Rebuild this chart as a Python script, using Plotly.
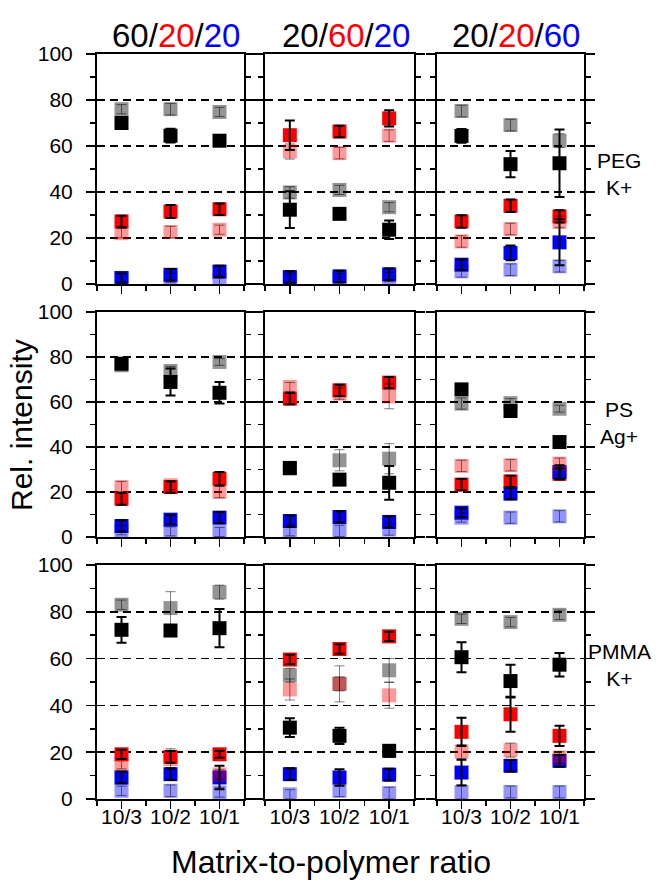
import plotly.graph_objects as go

W, H = 663, 883
ratios = ["10/3", "10/2", "10/1"]
xpos = [1, 2, 3]
compositions = ["60/<span style='color:#ff0000'>20</span>/<span style='color:#0000ff'>20</span>",
                "20/<span style='color:#ff0000'>60</span>/<span style='color:#0000ff'>20</span>",
                "20/<span style='color:#ff0000'>20</span>/<span style='color:#0000ff'>60</span>"]
systems = ["PEG<br>K+", "PS<br>Ag+", "PMMA<br>K+"]

# ---- PEG K+ (per composition: 60/20/20, 20/60/20, 20/20/60) ----
peg_black = [[70, 64.5, 62.3], [32.3, 30.5, 23.6], [64.4, 52.1, 52.5]]
peg_black_err = [[2, 3, 1], [8, 1, 4], [3, 5.7, 14.7]]
peg_gray = [[76, 76, 74.8], [39.8, 40.9, 33.4], [75.2, 69.1, 62.3]]
peg_gray_err = [[2, 2.5, 2], [2.5, 2, 2], [2.5, 2.5, 3]]
peg_red = [[27.2, 31.5, 32.5], [64.7, 66.3, 72], [27.2, 34, 29.4]]
peg_red_err = [[2.5, 2.8, 2.5], [6.4, 2.5, 3.5], [2.7, 2.7, 2.7]]
peg_pink = [[22.1, 22.6, 23.6], [57.6, 56.9, 64.5], [18.5, 23.9, 27]]
peg_pink_err = [[2, 2.5, 2], [3.3, 2.5, 2.5], [2.5, 2.5, 2.5]]
peg_blue = [[2.6, 4, 5.4], [3, 3.3, 4.2], [8.4, 13.5, 18.1]]
peg_blue_err = [[2, 2.5, 2.5], [2.5, 2.5, 2.5], [2.3, 3.2, 10]]
peg_lblue = [[2.6, 2.6, 1.6], [2.5, 2.5, 3], [5.5, 6.2, 7.7]]
peg_lblue_err = [[2, 2, 2], [2, 2, 2], [2.5, 2.5, 2.5]]

# ---- PS Ag+ ----
ps_black = [[77, 68.9, 64.1], [30.7, 25.5, 24.1], [65.6, 56, 42.2]]
ps_black_err = [[1.5, 6, 4.8], [1.5, 2, 7.5], [2, 2, 1.5]]
ps_gray = [[76.3, 73.8, 77.8], [30.4, 34.1, 34.8], [59.3, 59.5, 57]]
ps_gray_err = [[1.5, 2, 1.5], [1.5, 4.7, 6.7], [2.5, 2, 1.5]]
ps_red = [[17, 22.2, 25.9], [61.5, 65.2, 68.6], [23.3, 24.7, 28.1]]
ps_red_err = [[2.7, 2.5, 3], [2.5, 2.5, 2.5], [2.5, 2.5, 2.5]]
ps_pink = [[22.2, 23, 20], [66.7, 63.7, 62.5], [31.6, 31.9, 32.6]]
ps_pink_err = [[2.5, 2, 2.5], [2, 2.5, 5.5], [2.5, 2.5, 2.5]]
ps_blue = [[4.9, 7.7, 8.6], [7.1, 8.9, 6.7], [10.8, 19.3, 28.9]]
ps_blue_err = [[2.5, 2, 2.5], [2.5, 2.5, 2.5], [2, 2.5, 3]]
ps_lblue = [[3, 2.5, 2.2], [3, 2.7, 3.3], [8.6, 8.6, 9.2]]
ps_lblue_err = [[2, 2, 2], [2.5, 2.5, 2.5], [2, 2.5, 2.5]]

# ---- PMMA K+ ----
pmma_black = [[72.3, 72, 73], [30.5, 27, 20.6], [60.6, 50.4, 57.4]]
pmma_black_err = [[5.5, 1.5, 8.2], [4, 3.5, 2.5], [6.4, 7, 5]]
pmma_gray = [[83, 81.6, 88.4], [52.9, 49.2, 55], [77, 75.6, 78.7]]
pmma_gray_err = [[2, 7, 3], [3, 7.7, 5], [2, 2, 2]]
pmma_red = [[19.1, 18, 19.1], [59.6, 64.1, 69.5], [28.7, 36.2, 27]]
pmma_red_err = [[2, 2.5, 1.5], [2, 2, 2], [6, 7.5, 4.3]]
pmma_pink = [[14.9, 17, 10.5], [46.8, 49.2, 44.3], [20.3, 20.9, 17.7]]
pmma_pink_err = [[2, 4.5, 2], [4.5, 3, 5.5], [3, 3, 2.5]]
pmma_blue = [[9.2, 10.6, 9.2], [10.6, 9.2, 10.4], [11.3, 14.2, 16.3]]
pmma_blue_err = [[2.5, 2.5, 5], [2.5, 3.5, 2.5], [5.5, 2.5, 2.5]]
pmma_lblue = [[3.5, 3.5, 2.8], [2, 3.5, 2.5], [3, 3, 3]]
pmma_lblue_err = [[2, 2.5, 2], [2, 2.5, 2.5], [3, 2.5, 2.5]]

rows = [
    dict(black=(peg_black, peg_black_err), gray=(peg_gray, peg_gray_err),
         red=(peg_red, peg_red_err), pink=(peg_pink, peg_pink_err),
         blue=(peg_blue, peg_blue_err), lblue=(peg_lblue, peg_lblue_err)),
    dict(black=(ps_black, ps_black_err), gray=(ps_gray, ps_gray_err),
         red=(ps_red, ps_red_err), pink=(ps_pink, ps_pink_err),
         blue=(ps_blue, ps_blue_err), lblue=(ps_lblue, ps_lblue_err)),
    dict(black=(pmma_black, pmma_black_err), gray=(pmma_gray, pmma_gray_err),
         red=(pmma_red, pmma_red_err), pink=(pmma_pink, pmma_pink_err),
         blue=(pmma_blue, pmma_blue_err), lblue=(pmma_lblue, pmma_lblue_err)),
]

solid = {"black": "#000000", "red": "#ff0000", "blue": "#0000ff"}
faded = {"gray": "rgba(0,0,0,0.42)", "pink": "rgba(255,0,0,0.40)", "lblue": "rgba(0,0,255,0.42)"}

# layout in screen pixels
col_px = [(97, 244), (265, 414), (437, 584)]
row_px = [(54, 284), (312, 537), (565, 799)]
FONT = "Liberation Sans, Arial, sans-serif"


def fx(px):
    return px / W


def fy(py):
    return 1 - py / H


fig = go.Figure()
layout = {}
for r in range(3):
    for c in range(3):
        n = r * 3 + c + 1
        xs = "x" if n == 1 else f"x{n}"
        ys = "y" if n == 1 else f"y{n}"
        xk = "xaxis" if n == 1 else f"xaxis{n}"
        yk = "yaxis" if n == 1 else f"yaxis{n}"
        x0, x1 = col_px[c]
        y0, y1 = row_px[r]
        layout[xk] = dict(
            domain=[fx(x0), fx(x1)], anchor=ys, range=[0.5, 3.5], automargin=False,
            tickmode="array", tickvals=xpos, ticktext=ratios,
            showticklabels=(r == 2), ticks="outside", ticklen=8, tickwidth=1.5,
            tickcolor="black", showline=True, linecolor="black", linewidth=2,
            mirror=True, showgrid=False, zeroline=False, ticklabelstandoff=-10,
            tickfont=dict(family=FONT, size=21, color="black"),
            minor=dict(tick0=0.5, dtick=1, ticks="outside", ticklen=5,
                       tickwidth=1.5, tickcolor="black"),
        )
        layout[yk] = dict(
            domain=[fy(y1), fy(y0)], anchor=xs, range=[0, 100], automargin=False,
            tickmode="linear", tick0=0, dtick=20,
            showticklabels=(c == 0), ticks="outside", ticklen=9, tickwidth=1.5,
            tickcolor="black", showline=True, linecolor="black", linewidth=2,
            mirror="ticks", showgrid=True, gridcolor="black", gridwidth=1.8,
            griddash="8px,5px", zeroline=False, ticklabelstandoff=9,
            tickfont=dict(family=FONT, size=21, color="black"),
            minor=dict(dtick=10, ticks="outside", ticklen=5, tickwidth=1.5,
                       tickcolor="black", showgrid=False),
        )
        data = rows[r]

        def add_markers(key, color):
            vals = data[key][0][c]
            fig.add_trace(go.Scatter(
                x=xpos, y=vals, xaxis=xs, yaxis=ys, mode="markers",
                marker=dict(symbol="square", size=14, color=color),
                showlegend=False, hoverinfo="skip"))

        def add_err(key, color, thick):
            vals, errs = data[key][0][c], data[key][1][c]
            fig.add_trace(go.Scatter(
                x=xpos, y=vals, xaxis=xs, yaxis=ys, mode="markers",
                marker=dict(size=1, color="rgba(0,0,0,0)"),
                error_y=dict(type="data", array=errs, visible=True,
                             color=color, thickness=thick, width=5),
                showlegend=False, hoverinfo="skip"))

        for k in ["black", "red", "blue"]:
            add_markers(k, solid[k])
        for k in ["gray", "pink", "lblue"]:
            add_markers(k, faded[k])
        for k in ["gray", "pink", "lblue"]:
            add_err(k, "rgba(0,0,0,0.5)", 1)
        for k in ["black", "red", "blue"]:
            add_err(k, "#000000", 2)

annotations = []
title_x = [176, 346, 516]
for c in range(3):
    annotations.append(dict(
        x=fx(title_x[c]), y=fy(36), xref="paper", yref="paper",
        text=compositions[c], showarrow=False, xanchor="center", yanchor="middle",
        font=dict(family=FONT, size=33, color="black")))
sys_y = [174, 423, 665]
for r in range(3):
    annotations.append(dict(
        x=fx(619), y=fy(sys_y[r]), xref="paper", yref="paper",
        text=systems[r], showarrow=False, xanchor="center", yanchor="middle",
        align="center", font=dict(family=FONT, size=21, color="black")))
annotations.append(dict(
    x=fx(21), y=fy(425), xref="paper", yref="paper", text="Rel. intensity",
    showarrow=False, textangle=-90, xanchor="center", yanchor="middle",
    font=dict(family=FONT, size=30, color="black")))
annotations.append(dict(
    x=fx(331), y=fy(862), xref="paper", yref="paper",
    text="Matrix-to-polymer ratio", showarrow=False, xanchor="center",
    yanchor="middle", font=dict(family=FONT, size=32, color="black")))

fig.update_layout(
    width=W, height=H, margin=dict(l=0, r=0, t=0, b=0, autoexpand=False),
    paper_bgcolor="white", plot_bgcolor="white", showlegend=False,
    hovermode=False, annotations=annotations, **layout)

# remove the browser's default 8px page margin so the figure fills the window
fig.write_html("out.html", config={"displayModeBar": False, "staticPlot": True},
               post_script="document.body.style.margin='0px';")
